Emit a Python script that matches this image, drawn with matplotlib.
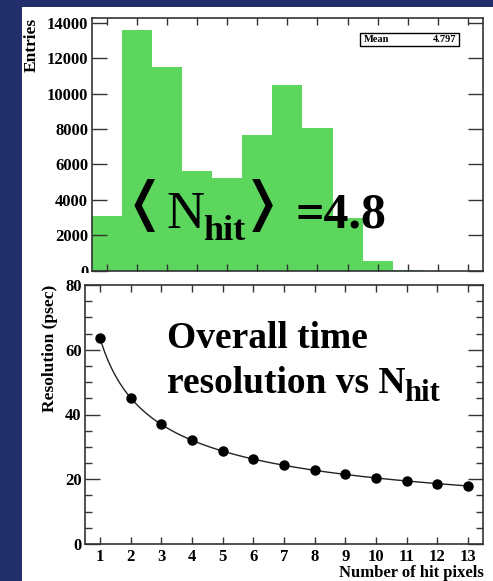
import numpy as np
import matplotlib
matplotlib.use("Agg")
import matplotlib.pyplot as plt
from matplotlib.patches import Rectangle
from matplotlib.ticker import MultipleLocator

# ---------------- data ----------------
hit_bins = [1, 2, 3, 4, 5, 6, 7, 8, 9, 10, 11, 12, 13]
hit_counts = [3100, 13600, 11500, 5630, 5220, 7670, 10470, 8045, 2960, 550, 60, 0, 0]
mean_label = "Mean"
mean_value = "4.797"

n_pixels = [1, 2, 3, 4, 5, 6, 7, 8, 9, 10, 11, 12, 13]
resolution = [63.7, 45.2, 37.0, 32.1, 28.7, 26.3, 24.3, 22.8, 21.5, 20.4, 19.5, 18.5, 17.9]

W, H = 493, 581
NAVY = "#222f6b"
GREEN = "#5cd65c"
SERIF = ["Liberation Serif", "DejaVu Serif"]
SYM = ["DejaVu Sans", "Liberation Serif"]

plt.rcParams["font.family"] = SERIF
plt.rcParams["font.weight"] = "bold"

fig = plt.figure(figsize=(W / 100, H / 100), dpi=100)
fig.patch.set_facecolor(NAVY)


def fx(px):
    return px / W


def fy(py):
    return 1 - py / H


def axes_px(left, top, right, bottom):
    return [fx(left), fy(bottom), fx(right) - fx(left), fy(top) - fy(bottom)]


# white panel
fig.patches.append(Rectangle((fx(22), 0), 1 - fx(22), fy(7), transform=fig.transFigure,
                             facecolor="white", edgecolor="none", zorder=-10))

SPINE = "#333333"

# ---------------- top histogram ----------------
ax1 = fig.add_axes(axes_px(91.7, 18.3, 483, 270.7))
ax1.set_zorder(1)
ax1.bar(hit_bins, hit_counts, width=1.0, color=GREEN, edgecolor="none")
ax1.set_xlim(0.5, 13.5)
ax1.set_ylim(0, 14250)
ax1.xaxis.set_major_locator(matplotlib.ticker.FixedLocator(hit_bins))
ax1.yaxis.set_major_locator(MultipleLocator(2000))
ax1.tick_params(axis="x", which="major", direction="in", length=5, width=1,
                top=True, bottom=True, labelbottom=False, color=SPINE)
ax1.tick_params(axis="y", which="major", direction="in", length=10.5, width=1,
                left=True, right=True, labelsize=12, pad=2.5, color=SPINE)
for lab in ax1.get_yticklabels():
    lab.set_fontweight("bold")
for s in ax1.spines.values():
    s.set_color(SPINE)
    s.set_linewidth(1.2)
ax1.set_ylabel("Entries", fontsize=12.5, fontweight="bold", loc="top", labelpad=5)

# stats box
fig.patches.append(Rectangle((fx(360), fy(45.7)), fx(459) - fx(360), fy(32.7) - fy(45.7),
                             transform=fig.transFigure, facecolor="white",
                             edgecolor="black", linewidth=1.0, zorder=5))
fig.text(fx(364), fy(39.5), mean_label, fontsize=7.5, fontweight="bold", va="center",
         ha="left", zorder=6)
fig.text(fx(456), fy(39.5), mean_value, fontsize=7.5, fontweight="bold", va="center",
         ha="right", zorder=6)

# big annotation <N_hit> =4.8
fig.text(fx(123), fy(219), "\u276C", fontsize=38, family=SYM, fontweight="bold",
         va="baseline", ha="left", zorder=6)
fig.text(fx(167), fy(228), "N", fontsize=38, fontweight="normal", va="baseline",
         ha="left", zorder=6)
fig.text(fx(203), fy(240), "hit", fontsize=26, fontweight="bold", va="baseline",
         ha="left", zorder=6)
fig.text(fx(240), fy(219), "\u276D", fontsize=38, family=SYM, fontweight="bold",
         va="baseline", ha="left", zorder=6)
fig.text(fx(296), fy(228), "=4.8", fontsize=36, fontweight="bold", va="baseline",
         ha="left", zorder=6)

# white cover (lower pad)
fig.patches.append(Rectangle((fx(22), 0), 1 - fx(22), fy(272.5), transform=fig.transFigure,
                             facecolor="white", edgecolor="none", zorder=1.5))

# ---------------- bottom resolution plot ----------------
ax2 = fig.add_axes(axes_px(84.5, 285, 483.3, 544))
ax2.set_zorder(2)
x = np.asarray(n_pixels, dtype=float)
y = np.asarray(resolution, dtype=float)
A = np.vstack([1 / np.sqrt(x), np.ones_like(x)]).T
coef, *_ = np.linalg.lstsq(A, y, rcond=None)
xf = np.linspace(x.min(), x.max(), 300)
ax2.plot(xf, coef[0] / np.sqrt(xf) + coef[1], color="#222222", lw=1.0, zorder=2)
ax2.plot(x, y, "o", color="black", markersize=6.5, zorder=3)
ax2.set_xlim(0.5, 13.5)
ax2.set_ylim(0, 80)
ax2.xaxis.set_major_locator(matplotlib.ticker.FixedLocator(n_pixels))
ax2.yaxis.set_major_locator(MultipleLocator(20))
ax2.yaxis.set_minor_locator(MultipleLocator(5))
ax2.tick_params(axis="x", which="major", direction="in", length=5, width=1,
                top=True, bottom=True, labelsize=12, pad=3.5, color=SPINE)
ax2.tick_params(axis="y", which="major", direction="in", length=10.5, width=1,
                left=True, right=True, labelsize=12, pad=2, color=SPINE)
ax2.tick_params(axis="y", which="minor", direction="in", length=5, width=1,
                left=True, right=True, color=SPINE)
for lab in ax2.get_xticklabels() + ax2.get_yticklabels():
    lab.set_fontweight("bold")
for s in ax2.spines.values():
    s.set_color(SPINE)
    s.set_linewidth(1.2)
ax2.set_ylabel("Resolution (psec)", fontsize=12.5, fontweight="bold", loc="top", labelpad=5)
ax2.set_xlabel("Number of hit pixels", fontsize=12, fontweight="bold", loc="right",
               labelpad=0)

fig.text(fx(167), fy(348), "Overall time", fontsize=27, fontweight="bold",
         va="baseline", ha="left", zorder=6)
fig.text(fx(167), fy(393), "resolution vs N", fontsize=27, fontweight="bold",
         va="baseline", ha="left", zorder=6)
fig.text(fx(404), fy(401), "hit", fontsize=22, fontweight="bold",
         va="baseline", ha="left", zorder=6)

fig.savefig("out.png", dpi=100, facecolor=fig.get_facecolor())
